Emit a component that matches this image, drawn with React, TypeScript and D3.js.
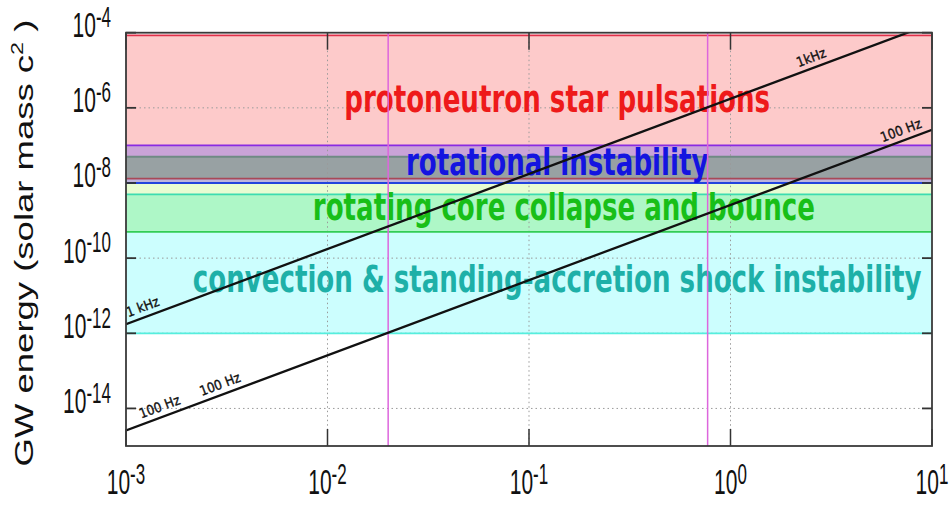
import React, { useEffect } from 'react';
import * as d3 from 'd3';

const WIDTH = 951;
const HEIGHT = 505;

// Axis decades and their exponent labels
const xTickValues = [1e-3, 1e-2, 1e-1, 1e0, 1e1];
const xTickExponents = ['-3', '-2', '-1', '0', '1'];
const yTickValues = [1e-4, 1e-6, 1e-8, 1e-10, 1e-12, 1e-14];
const yTickExponents = ['-4', '-6', '-8', '-10', '-12', '-14'];

// Energy bands of the emission mechanisms (solar mass c^2)
const bandIds = ['P', 'R', 'C', 'V'];
const bandLow = [1.3e-8, 1e-8, 5e-10, 1e-12];
const bandHigh = [8.5e-5, 1e-7, 5e-8, 5e-9];
const bandTitles = [
  'protoneutron star pulsations',
  'rotational instability',
  'rotating core collapse and bounce',
  'convection & standing-accretion shock instability',
];
const bandTitleEnergy = [7.8e-7, 1.6e-8, 1.04e-9, 1.26e-11];
const bandTitleX = [0.138, 0.138, 0.149, 0.138];

// Fill for each combination of overlapping bands
const overlapKeys = ['P', 'P+R', 'P+R+C', 'R+C', 'C', 'C+V', 'V'];
const overlapFills = ['#fdcaca', '#c9a3d7', '#98a1a3', '#bdb4dc', '#e8fcd2', '#aef7c7', '#ccfefe'];

// Constant-frequency detectability lines
const lineX = [1e-3, 10];
const line1kHz = [1.75e-12, 1.75e-4];
const line100Hz = [2.6e-15, 2.6e-7];

const lineLabelTexts = ['1 kHz', '1kHz', '100 Hz', '100 Hz', '100 Hz'];
const lineLabelSeries = [0, 0, 1, 1, 1];
const lineLabelX = [1.26e-3, 2.62, 1.53e-3, 3.05e-3, 7.3];

// Vertical markers
const markerX = [0.02, 0.77];

const M = { left: 126, right: 932, top: 32.7, bottom: 446 };

const bandTitleColors = ['#ee1a1a', '#1414e0', '#18bf18', '#1eb0a8'];
const bandTopStroke = ['#e0304a', '#8a2be2', '#6f8a84', '#3ddcb0'];
const bandBottomStroke = ['#a84858', '#2244dd', '#33cc55', '#55eedd'];

export default function App() {
  useEffect(() => {
    document.body.style.margin = '0';
  }, []);

  const x = d3.scaleLog().domain([1e-3, 10]).range([M.left, M.right]);
  const y = d3.scaleLog().domain([1e-15, 1e-4]).range([M.bottom, M.top]);

  // Split the bands into horizontal stripes by overlap combination
  const bounds = Array.from(new Set([...bandLow, ...bandHigh])).sort((a, b) => b - a);
  const stripes: { hi: number; lo: number; fill: string }[] = [];
  for (let i = 0; i < bounds.length - 1; i++) {
    const hi = bounds[i];
    const lo = bounds[i + 1];
    const mid = Math.sqrt(hi * lo);
    const key = bandIds.filter((_, j) => bandLow[j] <= mid && bandHigh[j] >= mid).join('+');
    const k = overlapKeys.indexOf(key);
    if (k >= 0) stripes.push({ hi, lo, fill: overlapFills[k] });
  }

  const series = [line1kHz, line100Hz];
  const lineGen = d3
    .line<number>()
    .x((_, i) => x(lineX[i]))
    .y((d) => y(d));

  // on-screen angle of a line rising two energy decades per x decade
  const pxSlope = (y(1e-12) - y(1e-8)) / (x(10) - x(1e-1));
  const angle = (Math.atan(pxSlope) * 180) / Math.PI;
  const nx = -Math.sin((angle * Math.PI) / 180);
  const ny = -Math.cos((angle * Math.PI) / 180);

  const energyAt = (s: number[], xv: number) => {
    const t = (Math.log10(xv) - Math.log10(lineX[0])) / (Math.log10(lineX[1]) - Math.log10(lineX[0]));
    return Math.pow(10, Math.log10(s[0]) + t * (Math.log10(s[1]) - Math.log10(s[0])));
  };

  const tickFont = "'Liberation Sans', Arial, sans-serif";
  const titleFont = "'DejaVu Sans Condensed', 'DejaVu Sans', sans-serif";
  const stretch = 1.7;

  return (
    <svg width={WIDTH} height={HEIGHT} style={{ display: 'block', background: '#fff' }}>
      <style>{`body{margin:0}`}</style>
      <defs>
        <clipPath id="plot-clip">
          <rect x={M.left} y={M.top} width={M.right - M.left} height={M.bottom - M.top} />
        </clipPath>
      </defs>

      <g clipPath="url(#plot-clip)">
        {stripes.map((s, i) => (
          <rect key={i} x={M.left} width={M.right - M.left} y={y(s.hi)} height={y(s.lo) - y(s.hi)} fill={s.fill} />
        ))}

        {/* dotted grid */}
        {xTickValues.slice(1, -1).map((v, i) => (
          <line key={'gx' + i} x1={x(v)} x2={x(v)} y1={M.top} y2={M.bottom} stroke="#9a9a9a" strokeWidth={1} strokeDasharray="1.5 3" />
        ))}
        {yTickValues.slice(1).map((v, i) => (
          <line key={'gy' + i} x1={M.left} x2={M.right} y1={y(v)} y2={y(v)} stroke="#9a9a9a" strokeWidth={1} strokeDasharray="1.5 3" />
        ))}

        {/* band edges */}
        {bandIds.map((id, i) => (
          <g key={id}>
            <line x1={M.left} x2={M.right} y1={y(bandHigh[i])} y2={y(bandHigh[i])} stroke={bandTopStroke[i]} strokeWidth={1.8} />
            <line x1={M.left} x2={M.right} y1={y(bandLow[i])} y2={y(bandLow[i])} stroke={bandBottomStroke[i]} strokeWidth={1.8} />
          </g>
        ))}

        {/* band titles */}
        {bandTitles.map((t, i) => (
          <text
            key={t}
            transform={`translate(${x(bandTitleX[i])},${y(bandTitleEnergy[i])}) scale(1,1.28)`}
            textAnchor="middle"
            fontFamily={titleFont}
            fontStretch="condensed"
            fontWeight="bold"
            fontSize={29}
            fill={bandTitleColors[i]}
          >
            {t}
          </text>
        ))}

        {/* vertical markers */}
        {markerX.map((v, i) => (
          <line key={'m' + i} x1={x(v)} x2={x(v)} y1={M.top} y2={M.bottom} stroke="#dd66dd" strokeWidth={1.5} />
        ))}

        {/* frequency lines */}
        {series.map((s, i) => (
          <path key={'l' + i} d={lineGen(s) || ''} fill="none" stroke="#111" strokeWidth={2.3} />
        ))}

        {lineLabelTexts.map((t, i) => {
          const xv = lineLabelX[i];
          const px = x(xv) + nx * 10.5;
          const py = y(energyAt(series[lineLabelSeries[i]], xv)) + ny * 10.5;
          return (
            <text
              key={'ll' + i}
              transform={`translate(${px},${py}) rotate(${-angle})`}
              textAnchor="middle"
              dy="0.35em"
              fontFamily={titleFont}
              fontStretch="condensed"
              fontSize={13.5}
              fill="#111"
              stroke="#111"
              strokeWidth={0.35}
            >
              {t}
            </text>
          );
        })}
      </g>

      {/* ticks */}
      {xTickValues.map((v, i) => (
        <g key={'tx' + i}>
          <line x1={x(v)} x2={x(v)} y1={M.bottom} y2={M.bottom - 17} stroke="#333" strokeWidth={1.5} />
          <line x1={x(v)} x2={x(v)} y1={M.top} y2={M.top + 17} stroke="#333" strokeWidth={1.5} />
        </g>
      ))}
      {yTickValues.map((v, i) => (
        <g key={'ty' + i}>
          <line x1={M.left} x2={M.left + 10} y1={y(v)} y2={y(v)} stroke="#333" strokeWidth={1.8} />
          <line x1={M.right} x2={M.right - 10} y1={y(v)} y2={y(v)} stroke="#333" strokeWidth={1.8} />
        </g>
      ))}

      {/* frame */}
      <rect x={M.left} y={M.top} width={M.right - M.left} height={M.bottom - M.top} fill="none" stroke="#3a3a3a" strokeWidth={1.8} />

      {/* tick labels */}
      {xTickValues.map((v, i) => (
        <text key={'xl' + i} transform={`translate(${x(v)},${494}) scale(1,${stretch})`} textAnchor="middle" fontFamily={tickFont} fontSize={21} fill="#111">
          <tspan>10</tspan>
          <tspan fontSize={17} dy={-6}>{xTickExponents[i]}</tspan>
        </text>
      ))}
      {yTickValues.map((v, i) => (
        <text key={'yl' + i} transform={`translate(${111},${y(v) + 4.5}) scale(1,${stretch})`} textAnchor="end" fontFamily={tickFont} fontSize={21} fill="#111">
          <tspan>10</tspan>
          <tspan fontSize={17} dy={-6}>{yTickExponents[i]}</tspan>
        </text>
      ))}

      {/* axis title */}
      <text transform={`translate(33,243) rotate(-90) scale(1.46,1)`} textAnchor="middle" fontFamily={tickFont} fontSize={25} fill="#111">
        <tspan>GW energy (solar mass c</tspan>
        <tspan fontSize={16} dy={-10}>2</tspan>
        <tspan dy={10}> )</tspan>
      </text>
    </svg>
  );
}
